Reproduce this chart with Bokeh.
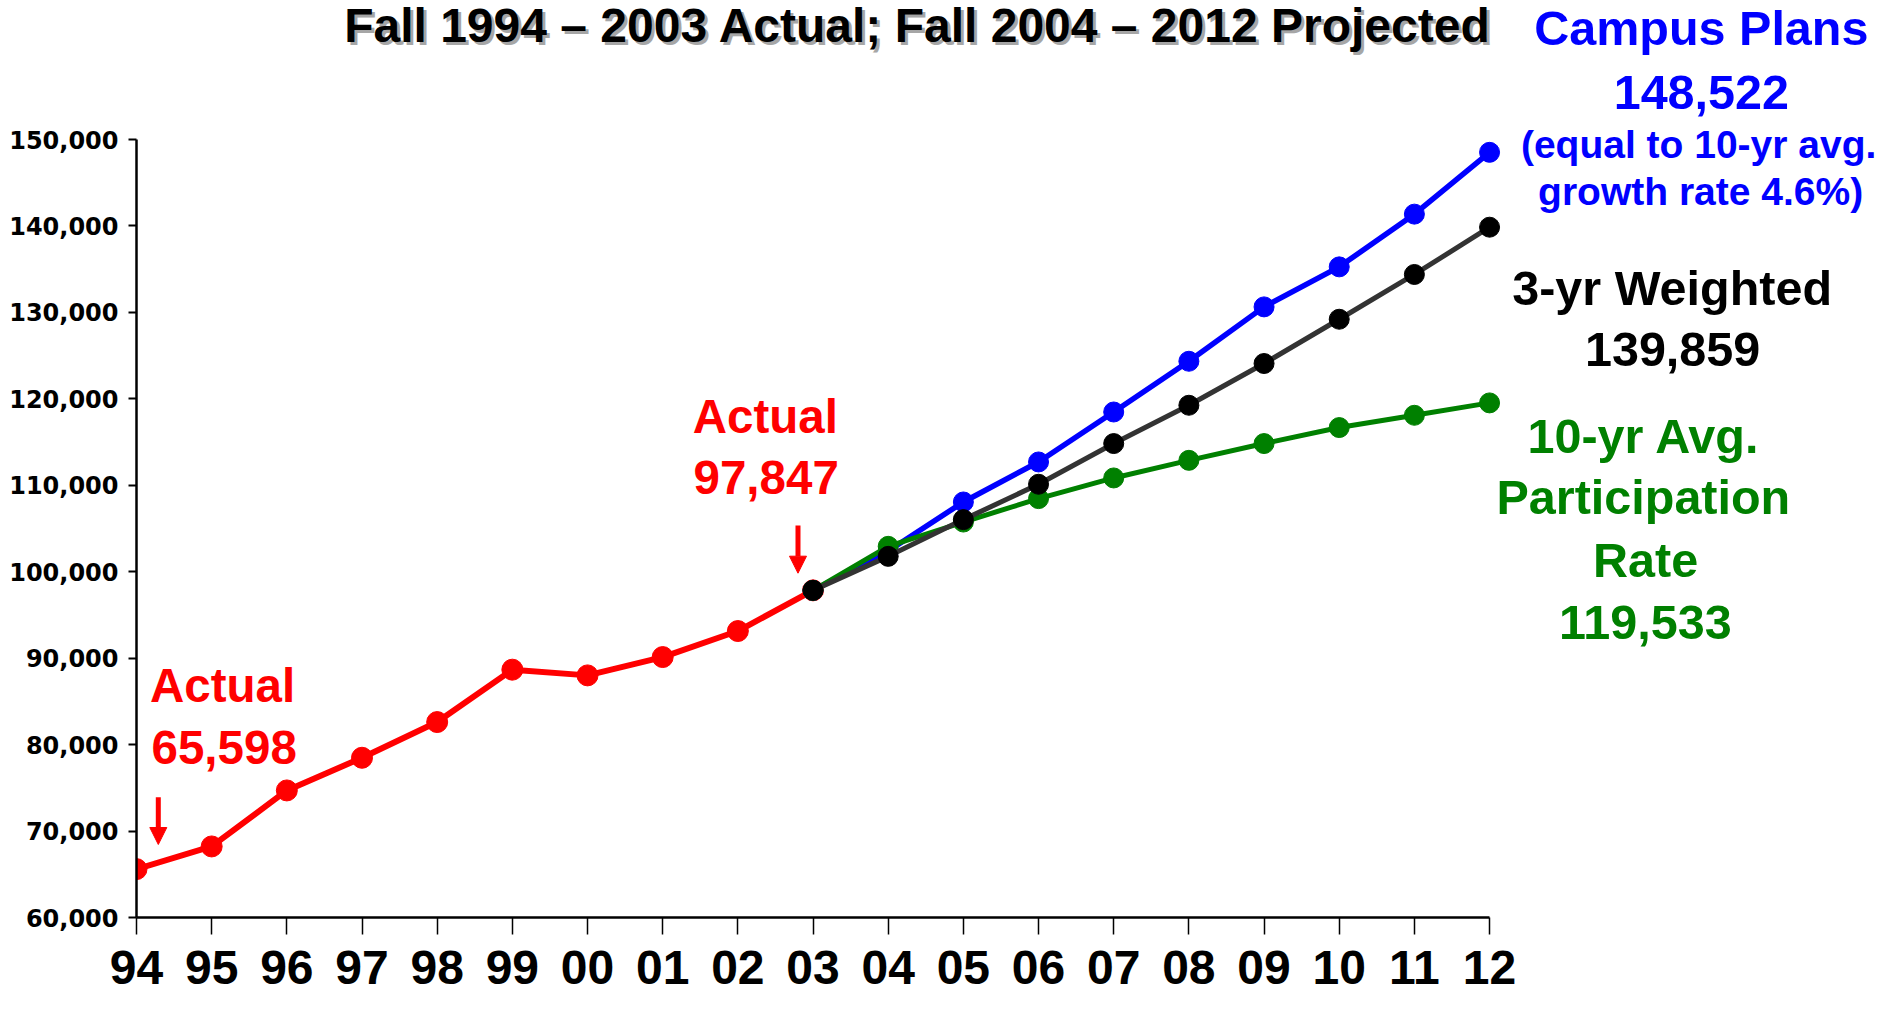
from bokeh.plotting import figure
from bokeh.models import Range1d, FixedTicker, Label, Arrow, NormalHead, NumeralTickFormatter
from bokeh.embed import file_html
from bokeh.resources import INLINE

# ---------------- data ----------------
year_labels = ["94", "95", "96", "97", "98", "99", "00", "01", "02", "03",
               "04", "05", "06", "07", "08", "09", "10", "11", "12"]
actual_years = year_labels[:10]
projected_years = year_labels[9:]

actual = [65598, 68220, 74700, 78480, 82610, 88670, 88010, 90130, 93140, 97847]
campus_plans = [97847, 102400, 108070, 112700, 118480, 124350, 130640, 135270, 141370, 148522]
three_yr_weighted = [97847, 101780, 106030, 110120, 114830, 119260, 124090, 129210, 134390, 139859]
ten_yr_participation = [97847, 102940, 105750, 108460, 110850, 112890, 114830, 116680, 118100, 119533]

y_ticks = [60000, 70000, 80000, 90000, 100000, 110000, 120000, 130000, 140000, 150000]

RED = "#FF0000"
BLUE = "#0000FF"
GREEN = "#008000"
BLACK = "#000000"
FONT = "Liberation Sans"

x_actual = [year_labels.index(y) for y in actual_years]
x_proj = [year_labels.index(y) for y in projected_years]

# ---------------- layout ----------------
W, H = 1878, 996
FRAME_LEFT, FRAME_BOTTOM_BORDER = 136, 79
PX_PER_YEAR = 75.17             # horizontal pixels per year step
PX_PER_UNIT = 86.44 / 10000     # vertical pixels per student
x0 = 0
x1 = x0 + (W - FRAME_LEFT) / PX_PER_YEAR
y0 = y_ticks[0]
y1 = y0 + (H - FRAME_BOTTOM_BORDER) / PX_PER_UNIT
BASELINE_FIX = 17               # px: lift labels so their baselines sit as in the reference

p = figure(width=W, height=H,
           x_range=Range1d(x0, x1), y_range=Range1d(y0, y1),
           output_backend="svg", toolbar_location=None,
           min_border_left=FRAME_LEFT, min_border_right=0,
           min_border_top=0, min_border_bottom=FRAME_BOTTOM_BORDER)
p.grid.visible = False
p.outline_line_color = None
p.background_fill_color = "white"
p.border_fill_color = "white"

# x axis
xa = p.xaxis[0]
xa.bounds = (0, len(year_labels) - 1)
xa.ticker = FixedTicker(ticks=list(range(len(year_labels))))
xa.major_label_overrides = {i: lab for i, lab in enumerate(year_labels)}
xa.major_label_text_font = FONT
xa.major_label_text_font_style = "bold"
xa.major_label_text_font_size = "48px"
xa.major_label_text_color = BLACK
xa.major_label_standoff = 16
xa.major_tick_out = 17
xa.major_tick_in = 0
xa.major_tick_line_width = 1.5
xa.major_tick_line_color = BLACK
xa.minor_tick_line_color = None
xa.axis_line_width = 2.5
xa.axis_line_color = BLACK

# y axis
ya = p.yaxis[0]
ya.bounds = (y_ticks[0], y_ticks[-1])
ya.ticker = FixedTicker(ticks=y_ticks)
ya.formatter = NumeralTickFormatter(format="0,0")
ya.major_label_text_font = "DejaVu Sans"
ya.major_label_text_font_style = "bold"
ya.major_label_text_font_size = "24px"
ya.major_label_text_color = BLACK
ya.major_label_standoff = 10
ya.major_tick_out = 8
ya.major_tick_in = 0
ya.major_tick_line_width = 2
ya.minor_tick_line_color = None
ya.axis_line_width = 2.5
ya.axis_line_color = BLACK

# series
p.line(x_actual, actual, line_color=RED, line_width=6)
p.scatter(x_actual, actual, size=21, fill_color=RED, line_color=RED)

p.line(x_proj, campus_plans, line_color=BLUE, line_width=5.5)
p.scatter(x_proj, campus_plans, size=20, fill_color=BLUE, line_color=BLUE)

p.line(x_proj, ten_yr_participation, line_color=GREEN, line_width=5)
p.scatter(x_proj, ten_yr_participation, size=20, fill_color=GREEN, line_color=GREEN)

p.line(x_proj, three_yr_weighted, line_color="#333333", line_width=5)
p.scatter(x_proj, three_yr_weighted, size=20, fill_color=BLACK, line_color=BLACK)


def lab(text, x, y, color, size="48.5px", align="center", xo=0, yo=BASELINE_FIX):
    p.add_layout(Label(x=x, y=y, text=text, text_color=color, text_font=FONT,
                       text_font_style="bold", text_font_size=size,
                       text_align=align, text_baseline="alphabetic",
                       level="overlay", x_offset=xo, y_offset=yo))


# title (kept fully inside the top edge, with a grey shadow)
title = "Fall 1994 \u2013 2003 Actual; Fall 2004 \u2013 2012 Projected"
lab(title, 10.394, 164121, "#A6A6A6", size="48px", xo=3, yo=-11)
lab(title, 10.394, 164121, BLACK, size="48px", yo=-8)

# actual annotations
lab("Actual", 0.18, 84908, RED, size="47.5px", align="left")
lab(f"{actual[0]:,}", 0.20, 77700, RED, size="47.5px", align="left")
lab("Actual", 7.40, 115958, RED, size="47.5px", align="left")
lab(f"{actual[-1]:,}", 7.41, 108901, RED, size="47.5px", align="left")

for xs, ya0, ya1 in [(0.29, 73917, 68445), (8.80, 105349, 99831)]:
    p.add_layout(Arrow(end=NormalHead(size=17, fill_color=RED, line_color=RED, line_width=1),
                       x_start=xs, y_start=ya0, x_end=xs, y_end=ya1,
                       line_color=RED, line_width=5))

# right-side series labels
lab("Campus Plans", 20.817, 160916, BLUE)
lab(f"{campus_plans[-1]:,}", 20.817, 153512, BLUE)
lab("(equal to 10-yr avg.", 20.781, 147462, BLUE, size="39px")
lab("growth rate 4.6%)", 20.808, 141966, BLUE, size="39px")

lab("3-yr Weighted", 20.429, 130849, BLACK)
lab(f"{three_yr_weighted[-1]:,}", 20.435, 123688, BLACK)

lab("10-yr Avg.", 20.053, 113703, GREEN)
lab("Participation", 20.046, 106623, GREEN)
lab("Rate", 20.076, 99335, GREEN)
lab(f"{ten_yr_participation[-1]:,}", 20.072, 92104, GREEN)

open("out.html", "w").write(file_html(p, INLINE))
